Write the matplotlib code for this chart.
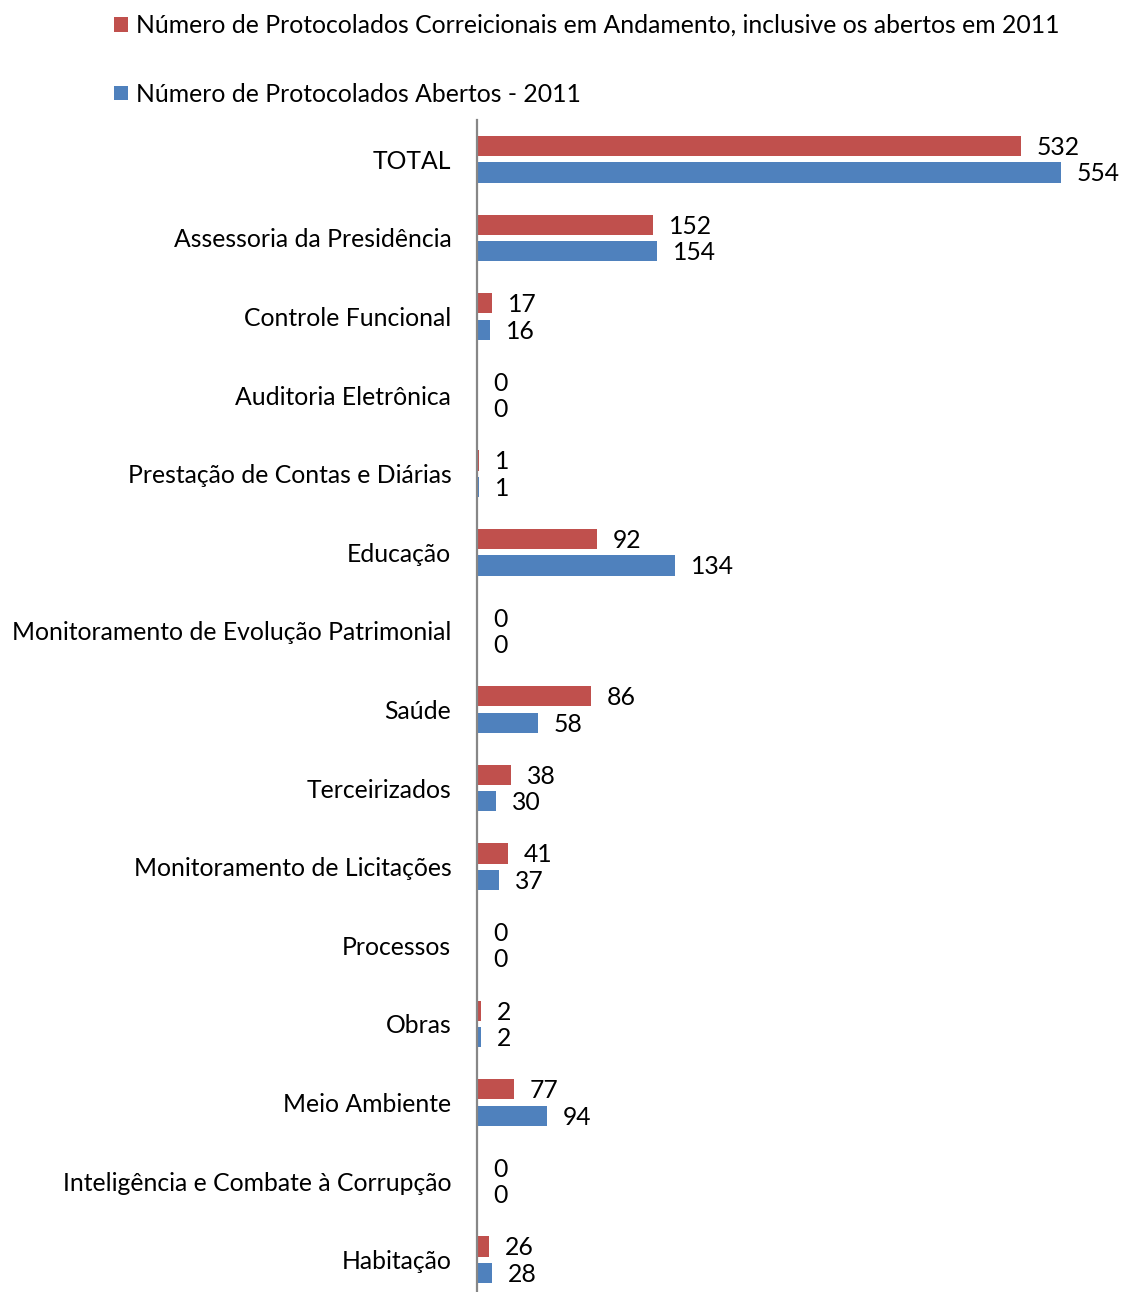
import matplotlib.pyplot as plt
import numpy as np

# categorias (de cima para baixo)
categorias = [
    "TOTAL", "Assessoria da Presidência", "Controle Funcional", "Auditoria Eletrônica",
    "Prestação de Contas e Diárias", "Educação", "Monitoramento de Evolução Patrimonial",
    "Saúde", "Terceirizados", "Monitoramento de Licitações", "Processos", "Obras",
    "Meio Ambiente", "Inteligência e Combate à Corrupção", "Habitação",
]

# comprimento das barras
barras_andamento = [516, 167, 14, 0, 2, 114, 0, 108, 32, 29, 0, 4, 35, 0, 11]
barras_abertos = [554, 171, 12, 0, 2, 188, 0, 58, 18, 21, 0, 4, 66, 0, 14]

# rótulos de dados exibidos
rotulos_andamento = [532, 152, 17, 0, 1, 92, 0, 86, 38, 41, 0, 2, 77, 0, 26]
rotulos_abertos = [554, 154, 16, 0, 1, 134, 0, 58, 30, 37, 0, 2, 94, 0, 28]

serie_andamento = "Número de Protocolados Correicionais em Andamento, inclusive os abertos em 2011"
serie_abertos = "Número de Protocolados Abertos - 2011"

VERMELHO = "#C0504D"
AZUL = "#4F81BD"
FONTE = ["Lato", "DejaVu Sans"]
TAM = 17.8

W, H = 1121, 1292
fig = plt.figure(figsize=(W / 100, H / 100), dpi=100)
# eixo: x=477 px, faixa de categorias de y=120 a y=1299 px
ax = fig.add_axes([477 / W, (H - 1299) / H, 632 / W, 1179 / H])

y = np.arange(len(categorias))
altura = 0.255
desloc = 0.168

b1 = ax.barh(y - desloc, barras_andamento, height=altura, color=VERMELHO, label=serie_andamento)
b2 = ax.barh(y + desloc, barras_abertos, height=altura, color=AZUL, label=serie_abertos)

for barras, rotulos in ((b1, rotulos_andamento), (b2, rotulos_abertos)):
    for rect, r in zip(barras, rotulos):
        ax.annotate(str(r), (rect.get_width(), rect.get_y() + rect.get_height() / 2),
                    xytext=(11.5, -1), textcoords="offset points",
                    ha="left", va="center", fontsize=TAM, family=FONTE)

ax.set_xlim(0, 600)
ax.set_ylim(len(categorias) - 0.5, -0.5)
ax.set_yticks(y)
ax.set_yticklabels(categorias, family=FONTE, fontsize=TAM)
ax.tick_params(axis="y", length=0, pad=18.5)
ax.set_xticks([])
for lado in ("top", "right", "bottom"):
    ax.spines[lado].set_visible(False)
ax.spines["left"].set_color("#878787")
ax.spines["left"].set_linewidth(1.6)

fig.legend(handles=[b1, b2], loc="upper left", bbox_to_anchor=(114 / W, 1 - 14 / H),
           frameon=False, prop={"family": FONTE, "size": TAM},
           handlelength=0.55, handleheight=0.55, handletextpad=0.33, labelspacing=1.85,
           borderpad=0, borderaxespad=0)

fig.savefig("out.png", dpi=100)
